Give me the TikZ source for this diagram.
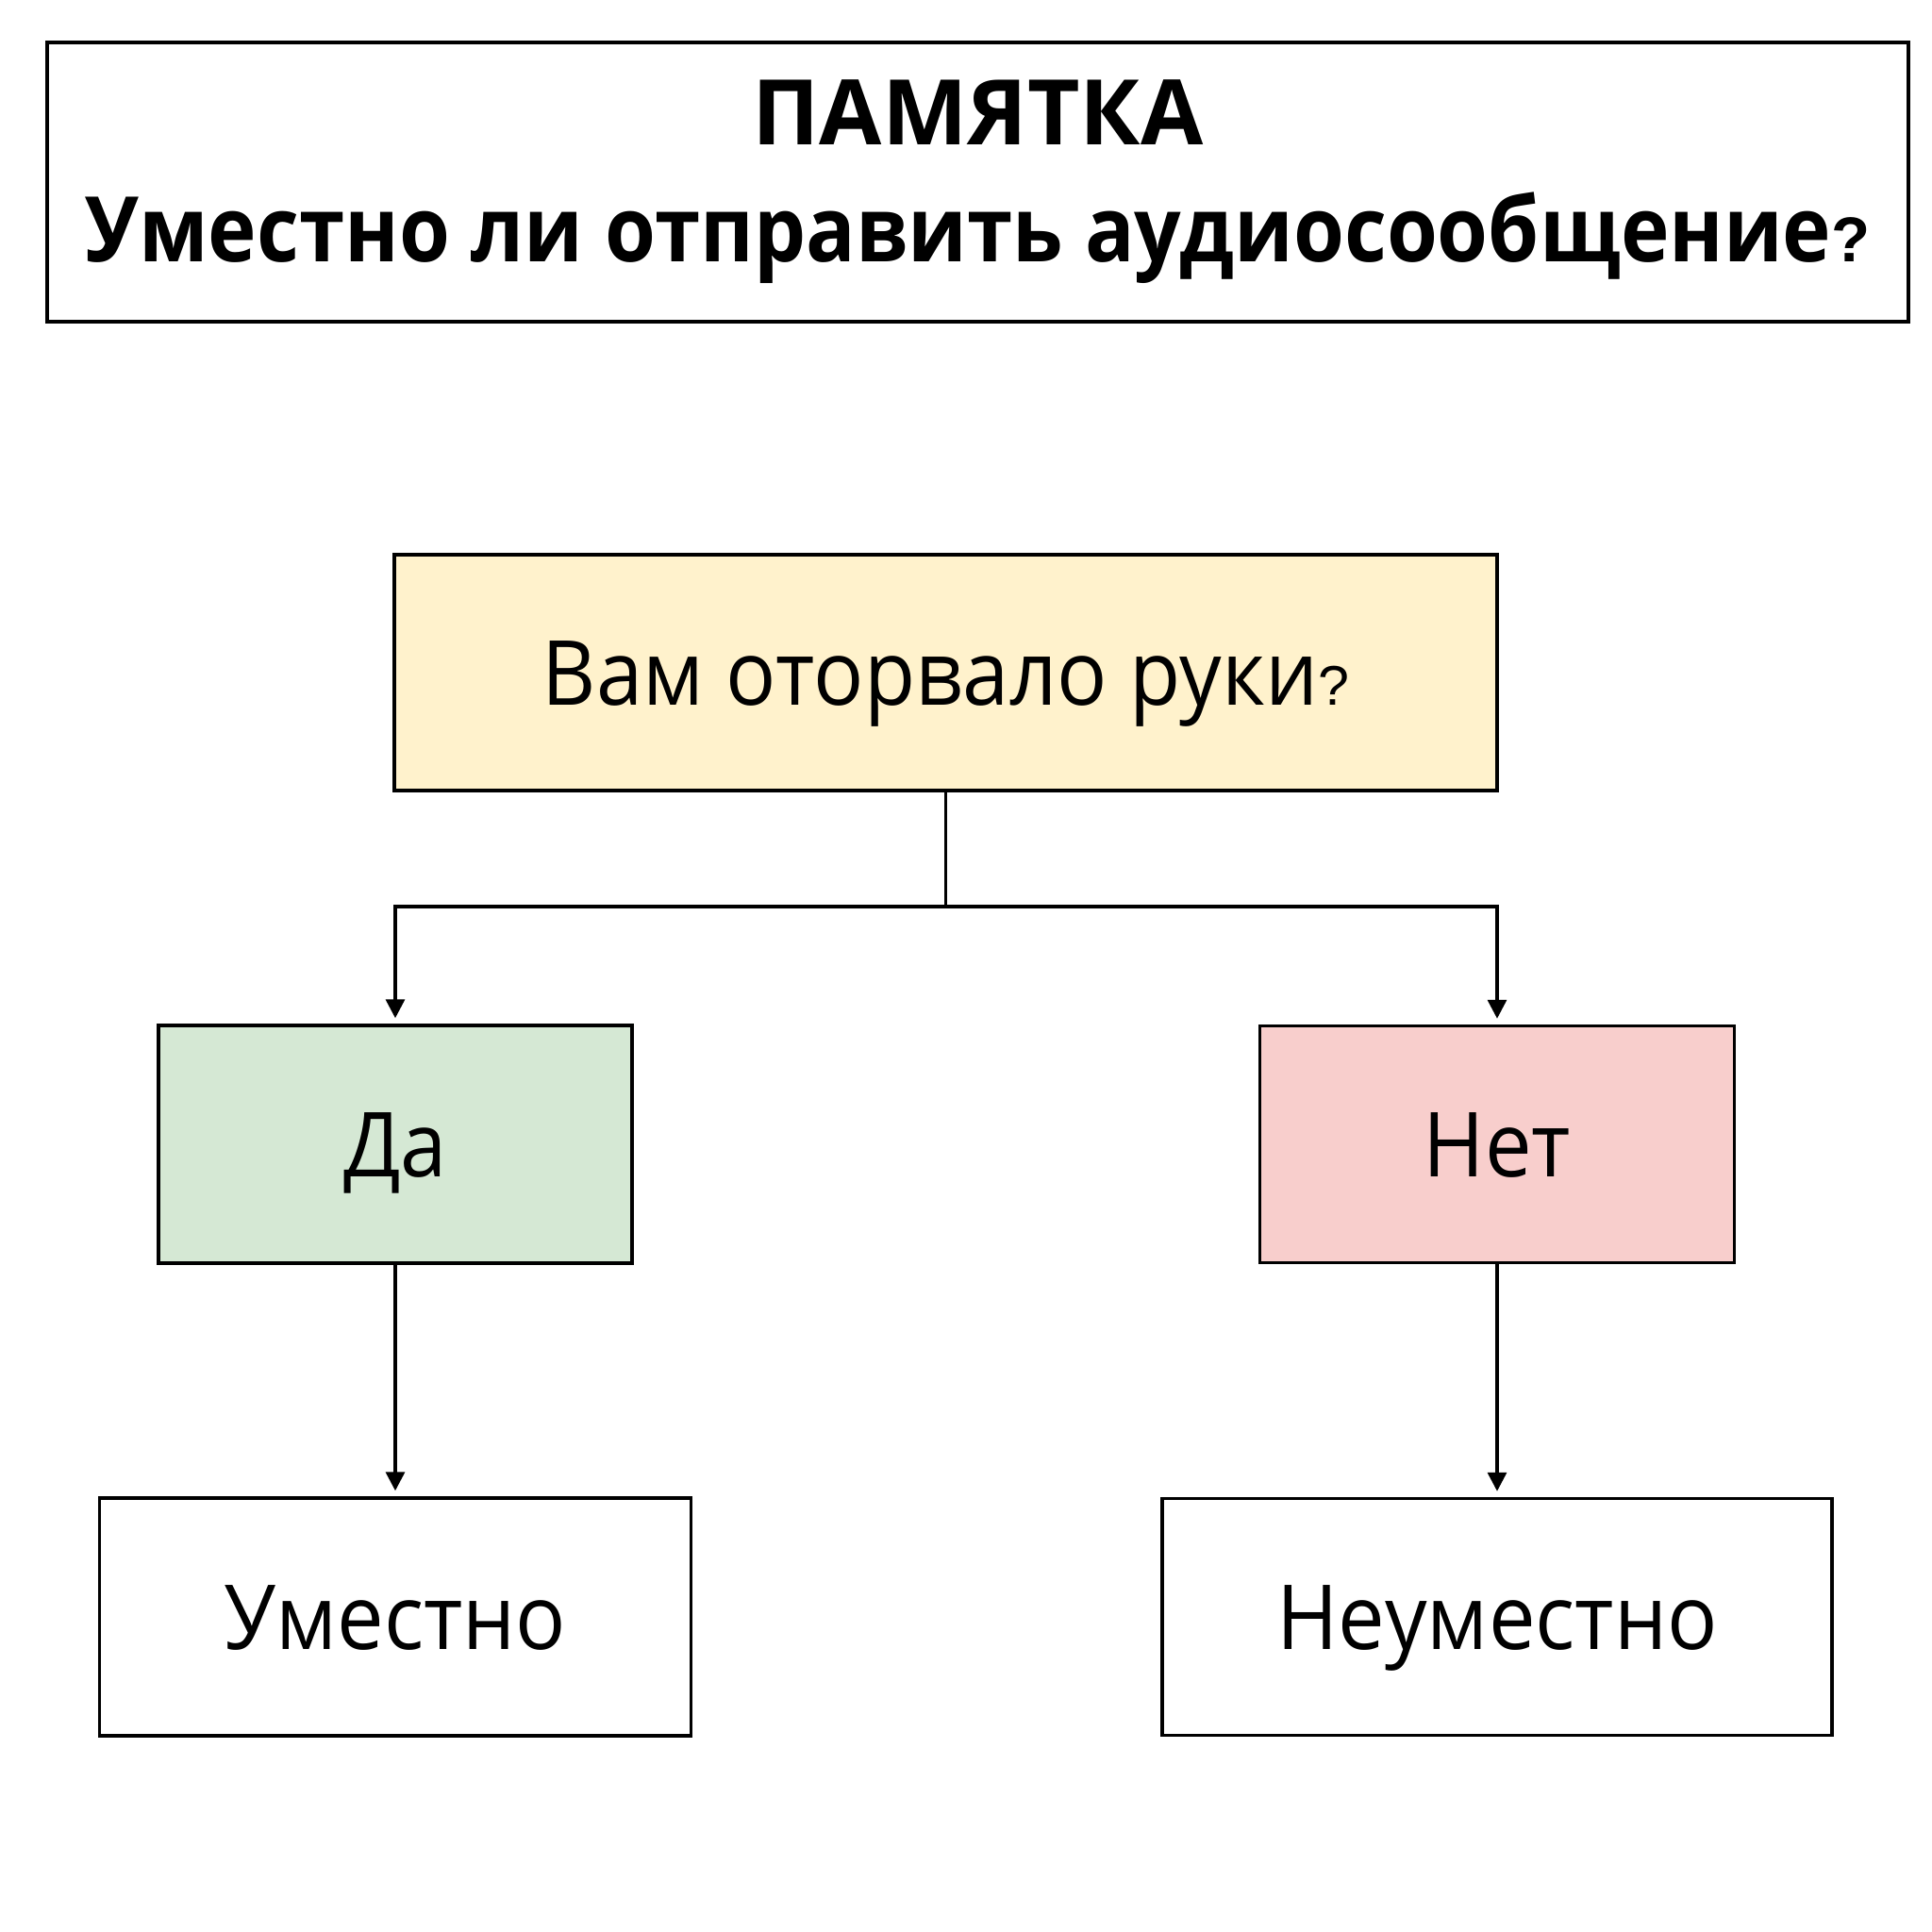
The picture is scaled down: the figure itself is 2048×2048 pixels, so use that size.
\documentclass[tikz,border=0pt]{standalone}
\usepackage{fontspec}
\setmainfont{Open Sans}
\newfontfamily\bodyfont{Open Sans}[FakeStretch=0.93]
\newfontfamily\narrowbold{Open Sans}[FakeStretch=0.908]
\newfontfamily\qfont{Liberation Sans}
\usetikzlibrary{arrows.meta}
\begin{document}
\begin{tikzpicture}[x=0.25pt,y=-0.25pt,
  box/.style={draw=black, line width=0.875pt, inner sep=0pt, text height=17pt, text depth=0pt,
    font=\bodyfont\fontsize{23.8}{30}\selectfont},
  titlebox/.style={draw=black, line width=1pt, inner sep=0pt, align=center,
    font=\bfseries\fontsize{24}{31}\selectfont},
  conn/.style={line width=0.85pt},
  arr/.style={conn, -{Triangle[length=5pt,width=5pt]}, shorten >=1.5pt},
]
\useasboundingbox (0,0) rectangle (2048,2048);
\fill[white] (0,0) rectangle (2048,2048);

\node[titlebox, minimum width=493.25pt, minimum height=74pt] (title) at (1036.5,193)
  {ПАМЯТКА\\{\narrowbold\bfseries Уместно ли отправить аудиосообщение}{\qfont\bfseries\fontsize{16.8}{31}\selectfont ?}};

\node[box, fill={rgb,255:red,255;green,242;blue,204}, minimum width=292.25pt, minimum height=62.5pt] (q) at (1002.5,713)
  {Вам оторвало руки{\qfont\fontsize{14.8}{30}\selectfont ?}};
\node[box, fill={rgb,255:red,213;green,232;blue,212}, minimum width=125.4pt, minimum height=63pt] (da) at (419,1213) {Да};
\node[box, fill={rgb,255:red,248;green,206;blue,204}, minimum width=125.75pt, minimum height=62.75pt] (net) at (1587,1213) {Нет};
\node[box, fill=white, minimum width=156.75pt, minimum height=63pt] (um) at (419,1714) {Уместно};
\node[box, fill=white, minimum width=177.6pt, minimum height=62.75pt] (neum) at (1587,1714) {Неуместно};

\coordinate (split) at (1002.5,961);
\draw[conn] (q.south) -- (split);
\draw[arr] (split) -| (da.north);
\draw[arr] (split) -| (net.north);
\draw[arr] (da.south) -- (um.north);
\draw[arr] (net.south) -- (neum.north);
\end{tikzpicture}
\end{document}
